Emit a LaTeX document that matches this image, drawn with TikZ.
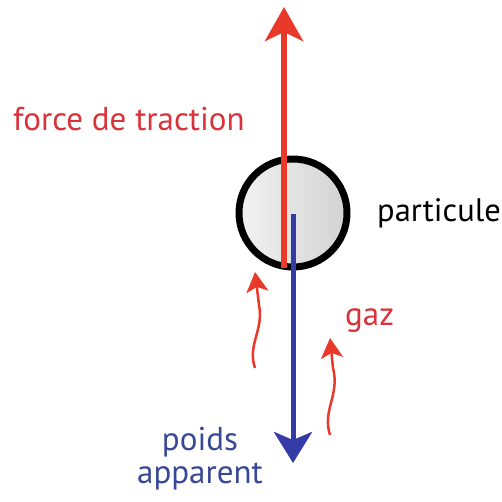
\documentclass[tikz,border=0pt]{standalone}
\usepackage{fontspec}
\setmainfont{PT Sans}
\usetikzlibrary{arrows.meta}
\definecolor{fred}{RGB}{232,57,42}
\definecolor{tred}{RGB}{218,50,58}
\definecolor{fblue}{RGB}{52,58,166}
\definecolor{tblue}{RGB}{56,72,150}
\tikzset{
  lbl/.style={inner sep=0pt, font=\fontsize{33}{38}\selectfont},
  bigtip/.style={-{Stealth[length=34pt,width=38pt,inset=9pt]}},
  smalltip/.style={-{Stealth[length=20pt,width=22pt,inset=5pt]}},
  gasflow/.style={fred, line width=2.5pt, smalltip}
}
\begin{document}
\begin{tikzpicture}[x=1pt,y=-1pt]
\useasboundingbox (0,0) rectangle (502,501);
% particle
\node (particle) [circle, minimum size=108pt, inner sep=0pt, draw=black, line width=7pt,
  left color=gray!10, right color=gray!35] at (293,213) {};
% coordinates for vectors
\coordinate (redstart) at (284,268);
\coordinate (redend) at (284,7);
\coordinate (bluestart) at (293,214);
\coordinate (blueend) at (293,463);
\draw[fred, line width=6pt, bigtip] (redstart) -- (redend);
\draw[fblue, line width=5pt, -{Stealth[length=31pt,width=38pt,inset=8pt]}] (bluestart) -- (blueend);
% gas arrows
\coordinate (g1a) at (255,368);
\coordinate (g1b) at (255,272);
\draw[gasflow] (g1a) .. controls (247,345) and (264,330) .. (259,305) -- (g1b);
\coordinate (g2a) at (330,435);
\coordinate (g2b) at (330,338);
\draw[gasflow] (g2a) .. controls (322,410) and (340,395) .. (333,368) -- (g2b);
% labels
\node (traction) [lbl, text=tred, anchor=base west] at (13,130) {force de traction};
\node (particule) [lbl, text=black, anchor=base west, font=\fontsize{32.5}{38}\selectfont] at (377,221) {particule};
\node (gaz) [lbl, text=tred, anchor=base west] at (345,325) {gaz};
\node (poids) [lbl, text=tblue, anchor=base] at (200,450) {poids};
\node (apparent) [lbl, text=tblue, anchor=base] at (200,483) {apparent};
\end{tikzpicture}
\end{document}
